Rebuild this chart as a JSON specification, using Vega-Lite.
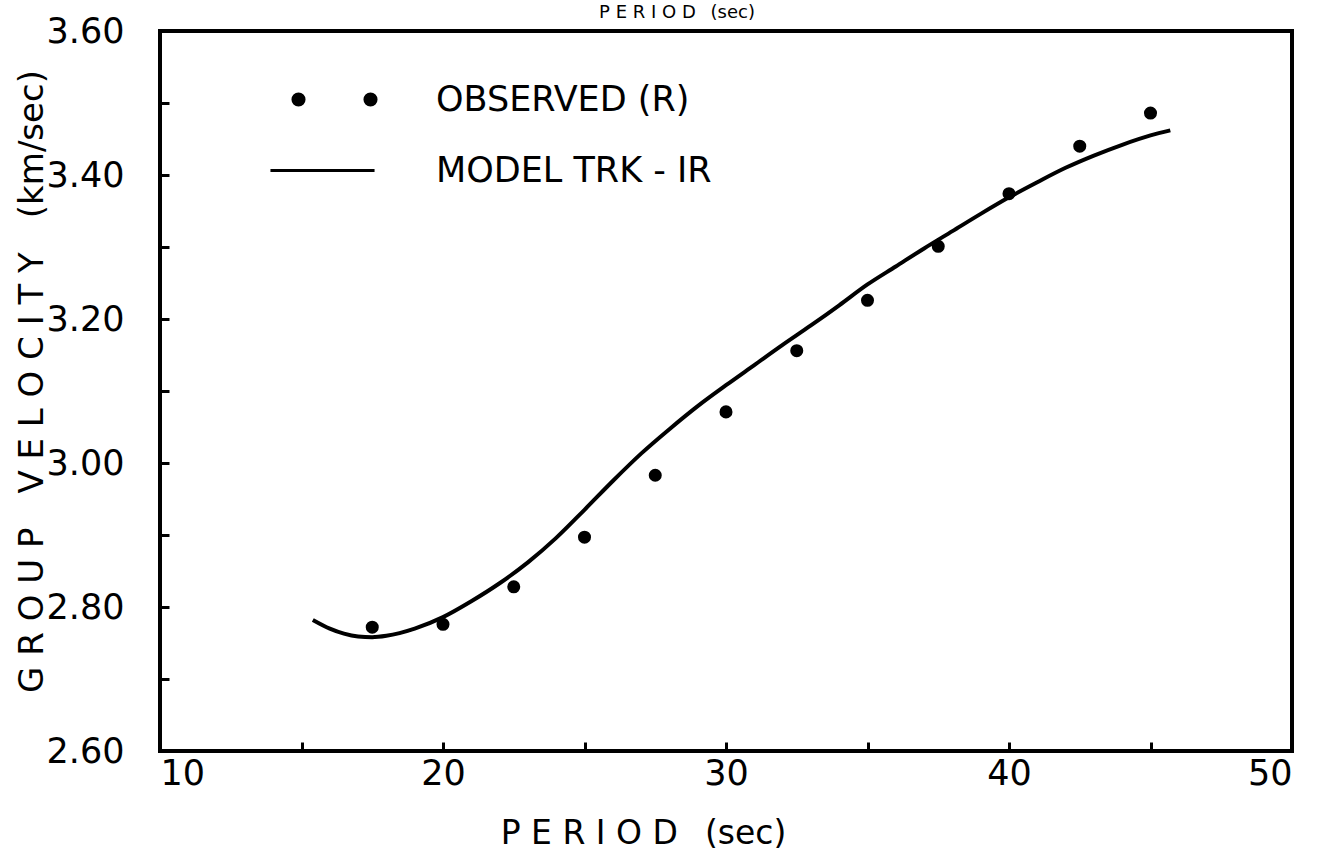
{
  "$schema": "https://vega.github.io/schema/vega-lite/v6.json",
  "width": 1132,
  "height": 720,
  "autosize": {"type": "none"},
  "padding": {"left": 160, "top": 31, "right": 31, "bottom": 110},
  "background": "white",
  "title": {
    "text": "P E R I O D \u2002(sec)",
    "font": "DejaVu Sans",
    "fontSize": 18,
    "fontWeight": "normal",
    "color": "black",
    "frame": "group",
    "baseline": "alphabetic",
    "offset": 0,
    "dy": 22,
    "dx": -49
  },
  "config": {
    "view": {"stroke": "black", "strokeWidth": 4},
    "axis": {
      "domain": false,
      "grid": false,
      "tickColor": "black",
      "tickWidth": 3,
      "tickSize": -9,
      "labelColor": "black",
      "labelFont": "DejaVu Sans",
      "labelFontSize": 35,
      "titleFont": "DejaVu Sans",
      "titleColor": "black",
      "titleFontWeight": "normal"
    }
  },
  "datasets": {
    "observed": [
      {"period": 17.5, "velocity": 2.772, "series": "OBSERVED (R)"},
      {"period": 20.0, "velocity": 2.776, "series": "OBSERVED (R)"},
      {"period": 22.5, "velocity": 2.828, "series": "OBSERVED (R)"},
      {"period": 25.0, "velocity": 2.897, "series": "OBSERVED (R)"},
      {"period": 27.5, "velocity": 2.983, "series": "OBSERVED (R)"},
      {"period": 30.0, "velocity": 3.071, "series": "OBSERVED (R)"},
      {"period": 32.5, "velocity": 3.156, "series": "OBSERVED (R)"},
      {"period": 35.0, "velocity": 3.226, "series": "OBSERVED (R)"},
      {"period": 37.5, "velocity": 3.301, "series": "OBSERVED (R)"},
      {"period": 40.0, "velocity": 3.374, "series": "OBSERVED (R)"},
      {"period": 42.5, "velocity": 3.440, "series": "OBSERVED (R)"},
      {"period": 45.0, "velocity": 3.486, "series": "OBSERVED (R)"}
    ],
    "model": [
      {"period": 15.4, "velocity": 2.782, "series": "MODEL TRK - IR"},
      {"period": 16.0, "velocity": 2.770, "series": "MODEL TRK - IR"},
      {"period": 16.5, "velocity": 2.763, "series": "MODEL TRK - IR"},
      {"period": 17.0, "velocity": 2.759, "series": "MODEL TRK - IR"},
      {"period": 17.5, "velocity": 2.758, "series": "MODEL TRK - IR"},
      {"period": 18.0, "velocity": 2.760, "series": "MODEL TRK - IR"},
      {"period": 19.0, "velocity": 2.770, "series": "MODEL TRK - IR"},
      {"period": 20.0, "velocity": 2.786, "series": "MODEL TRK - IR"},
      {"period": 21.0, "velocity": 2.808, "series": "MODEL TRK - IR"},
      {"period": 22.0, "velocity": 2.833, "series": "MODEL TRK - IR"},
      {"period": 23.0, "velocity": 2.862, "series": "MODEL TRK - IR"},
      {"period": 24.0, "velocity": 2.896, "series": "MODEL TRK - IR"},
      {"period": 25.0, "velocity": 2.935, "series": "MODEL TRK - IR"},
      {"period": 26.0, "velocity": 2.975, "series": "MODEL TRK - IR"},
      {"period": 27.0, "velocity": 3.013, "series": "MODEL TRK - IR"},
      {"period": 28.0, "velocity": 3.047, "series": "MODEL TRK - IR"},
      {"period": 29.0, "velocity": 3.079, "series": "MODEL TRK - IR"},
      {"period": 30.0, "velocity": 3.108, "series": "MODEL TRK - IR"},
      {"period": 31.0, "velocity": 3.136, "series": "MODEL TRK - IR"},
      {"period": 32.0, "velocity": 3.164, "series": "MODEL TRK - IR"},
      {"period": 33.0, "velocity": 3.191, "series": "MODEL TRK - IR"},
      {"period": 34.0, "velocity": 3.219, "series": "MODEL TRK - IR"},
      {"period": 35.0, "velocity": 3.248, "series": "MODEL TRK - IR"},
      {"period": 36.0, "velocity": 3.273, "series": "MODEL TRK - IR"},
      {"period": 37.0, "velocity": 3.298, "series": "MODEL TRK - IR"},
      {"period": 38.0, "velocity": 3.322, "series": "MODEL TRK - IR"},
      {"period": 39.0, "velocity": 3.346, "series": "MODEL TRK - IR"},
      {"period": 40.0, "velocity": 3.369, "series": "MODEL TRK - IR"},
      {"period": 41.0, "velocity": 3.390, "series": "MODEL TRK - IR"},
      {"period": 42.0, "velocity": 3.410, "series": "MODEL TRK - IR"},
      {"period": 43.0, "velocity": 3.427, "series": "MODEL TRK - IR"},
      {"period": 44.0, "velocity": 3.442, "series": "MODEL TRK - IR"},
      {"period": 45.0, "velocity": 3.455, "series": "MODEL TRK - IR"},
      {"period": 45.7, "velocity": 3.462, "series": "MODEL TRK - IR"}
    ]
  },
  "encoding": {
    "x": {
      "field": "period",
      "type": "quantitative",
      "scale": {"domain": [10, 50], "nice": false, "zero": false},
      "axis": {
        "title": "P E R I O D \u2002(sec)",
        "titleFontSize": 33,
        "values": [10, 15, 20, 25, 30, 35, 40, 45, 50],
        "labelExpr": "datum.value % 10 == 0 ? datum.label : ''",
        "labelPadding": 14,
        "titleX": 483,
        "titleY": 82,
        "titleBaseline": "middle",
        "titleAlign": "center"
      }
    },
    "y": {
      "field": "velocity",
      "type": "quantitative",
      "scale": {"domain": [2.6, 3.6], "nice": false, "zero": false},
      "axis": {
        "title": "G R O U P\u2002\u2002V E L O C I T Y\u2002\u2002(km/sec)",
        "titleFontSize": 34,
        "values": [2.6, 2.7, 2.8, 2.9, 3.0, 3.1, 3.2, 3.3, 3.4, 3.5, 3.6],
        "labelExpr": "round(datum.value * 10) % 2 == 0 ? format(datum.value, '.2f') : ''",
        "labelPadding": 45,
        "titleX": -128,
        "titleY": 350,
        "titleAngle": -90,
        "titleBaseline": "middle",
        "titleAlign": "center"
      }
    },
    "color": {
      "field": "series",
      "type": "nominal",
      "scale": {"domain": ["OBSERVED (R)", "MODEL TRK - IR"], "range": ["black", "black"]},
      "legend": {
        "orient": "none",
        "legendX": 145,
        "legendY": 51,
        "title": null,
        "padding": 0,
        "symbolSize": 900,
        "labelFont": "DejaVu Sans",
        "labelFontSize": 35,
        "labelColor": "black",
        "labelLimit": 500,
        "labelOffset": 96,
        "rowPadding": 35,
        "encode": {
          "symbols": {
            "update": {
              "shape": {"signal": "datum.value == 'OBSERVED (R)' ? 'M-1.97,0a0.37,0.37 0 1,0 0.74,0a0.37,0.37 0 1,0 -0.74,0M2.83,0a0.37,0.37 0 1,0 0.74,0a0.37,0.37 0 1,0 -0.74,0' : 'M-3.47,0L3.47,0'"},
              "fill": {"value": "black"},
              "stroke": {"value": "black"},
              "strokeWidth": {"value": 3},
              "opacity": {"value": 1},
              "fillOpacity": {"value": 1},
              "strokeOpacity": {"value": 1}
            }
          }
        }
      }
    }
  },
  "layer": [
    {
      "data": {"name": "model"},
      "mark": {"type": "line", "interpolate": "monotone", "strokeWidth": 4, "color": "black"}
    },
    {
      "data": {"name": "observed"},
      "mark": {"type": "point", "filled": true, "size": 170, "opacity": 1, "color": "black"}
    }
  ]
}
